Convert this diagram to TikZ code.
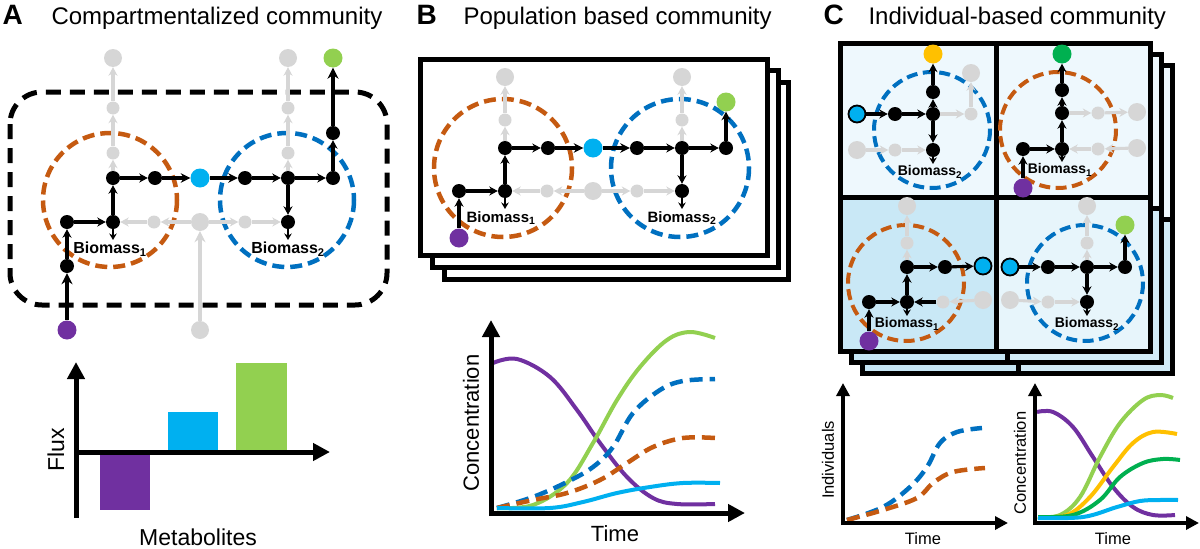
\documentclass[tikz,border=0pt]{standalone}
\usepackage{fontspec}
\setmainfont{Liberation Sans}
\usetikzlibrary{arrows.meta}
\definecolor{cOr}{HTML}{C55A11}
\definecolor{cBl}{HTML}{0070C0}
\definecolor{cCy}{HTML}{00B0F0}
\definecolor{cGr}{HTML}{92D050}
\definecolor{cPu}{HTML}{7030A0}
\definecolor{cGy}{HTML}{D6D6D6}
\definecolor{cYe}{HTML}{FFC000}
\definecolor{cDg}{HTML}{00B050}
\definecolor{fTop}{HTML}{EEF8FD}
\definecolor{fBL}{HTML}{C9E8F6}
\definecolor{fBR}{HTML}{E7F5FB}
\definecolor{fBk}{HTML}{C6E6F5}
\begin{document}
\begin{tikzpicture}[x=1pt,y=-1pt,
  bn/.style={circle,fill=black,inner sep=0pt,minimum size=14pt},
  gs/.style={circle,fill=cGy,inner sep=0pt,minimum size=13pt},
  gb/.style={circle,fill=cGy,inner sep=0pt,minimum size=18pt},
  met/.style={circle,inner sep=0pt,minimum size=19pt},
  cyo/.style={circle,fill=cCy,draw=black,line width=1.8pt,inner sep=0pt,minimum size=17pt},
  ar/.style={line width=3.1pt,-{Stealth[length=8.5pt,width=9pt]}},
  arm/.style={line width=3.8pt,-{Stealth[length=9.5pt,width=9.5pt]}},
  arT/.style={line width=4.6pt,-{Stealth[length=11pt,width=11pt]}},
  ars/.style={line width=2.4pt,-{Stealth[length=6.5pt,width=7.5pt]}},
  ga/.style={ar,color=cGy},
  gaT/.style={arT,color=cGy},
  bioA/.style={font=\bfseries\fontsize{16}{16}\selectfont},
  bioB/.style={font=\bfseries\fontsize{15}{15}\selectfont},
  bioC/.style={font=\bfseries\fontsize{14}{14}\selectfont},
  dc/.style={line width=4.5pt,dash pattern=on 12pt off 6pt},
  dcs/.style={line width=4pt,dash pattern=on 11pt off 5.5pt},
  fr/.style={draw=black,line width=5pt},
  axisL/.style={line width=5pt,-{Triangle[length=17pt,width=17pt]}},
  axisS/.style={line width=4.5pt,-{Triangle[length=13pt,width=13pt]}},
  cv/.style={line width=4pt},
  dv/.style={line width=4.5pt,dash pattern=on 13pt off 7pt},
  ttl/.style={font=\fontsize{24}{24}\selectfont,anchor=base west},
  let/.style={font=\bfseries\fontsize{28}{28}\selectfont,anchor=base west},
  lbl/.style={font=\fontsize{23}{23}\selectfont},
  lbs/.style={font=\fontsize{16.5}{16.5}\selectfont}
]
\path[use as bounding box] (0,0) rectangle (1200,549);

% ---------------- titles
\node[let] (tA) at (-1,24) {A};
\node[ttl] (tAt) at (48,24) {Compartmentalized community};
\node[let] (tB) at (413,24) {B};
\node[ttl] (tBt) at (460,24) {Population based community};
\node[let] (tC) at (820,24) {C};
\node[ttl] (tCt) at (865,24) {Individual-based community};

% ================= PANEL A
\draw[line width=5pt,dash pattern=on 15pt off 9pt,rounded corners=32pt] (10,92) rectangle (387,305);
\draw[dc,cOr] (110,200) circle (67);
\draw[dc,cBl] (287,200) circle (67);

\node[gb] (a1) at (113,58) {};
\node[gs] (a2) at (113,108) {};
\node[gs] (a3) at (113,153) {};
\node[bn] (a4) at (113,178) {};
\node[bn] (a5) at (155,178) {};
\node[met,fill=cCy] (ac) at (200,178) {};
\node[bn] (a6) at (245,178) {};
\node[bn] (a7) at (288,178) {};
\node[bn] (a8) at (333,178) {};
\node[bn] (a9) at (333,133) {};
\node[met,fill=cGr] (ag) at (333,58) {};
\node[gb] (at2) at (288,58) {};
\node[gs] (at3) at (288,108) {};
\node[gs] (at4) at (288,153) {};
\node[bn] (a10) at (67,222) {};
\node[bn] (a11) at (113,222) {};
\node[gs] (a12) at (154,222) {};
\node[gb] (a13) at (200,222) {};
\node[gs] (a14) at (245,222) {};
\node[bn] (a15) at (288,222) {};
\node[bn] (a16) at (67,266) {};
\node[met,fill=cPu] (ap) at (67,330) {};
\node[gb] (agb) at (200,330) {};
\node[bioA] (A1bio) at (110,249) {Biomass\textsubscript{1}};
\node[bioA] (A2bio) at (288,249) {Biomass\textsubscript{2}};
\coordinate (a11e) at (113,240);
\coordinate (a15e) at (288,240);

\draw[arT] (ap) -- (a16);
\draw[ar] (a16) -- (a10);
\draw[ar] (a10) -- (a11);
\draw[ar] (a11) -- (a4);
\draw[ars] (a11) -- (a11e);
\draw[ar] (a4) -- (a5);
\draw[arm] (a5) -- (ac);
\draw[arm] (ac) -- (a6);
\draw[ar] (a6) -- (a7);
\draw[ar] (a7) -- (a8);
\draw[ar] (a7) -- (a15);
\draw[ars] (a15) -- (a15e);
\draw[ar] (a8) -- (a9);
\draw[arT] (a9) -- (ag);
\draw[ga] (a4) -- (a3);
\draw[ga] (a3) -- (a2);
\draw[ga] (a2) -- (a1);
\draw[ga] (a7) -- (at4);
\draw[ga] (at4) -- (at3);
\draw[ga] (at3) -- (at2);
\draw[ga] (a13) -- (a12);
\draw[ga] (a12) -- (a11);
\draw[ga] (a13) -- (a14);
\draw[ga] (a14) -- (a15);
\draw[gaT] (agb) -- (a13);

% bar chart
\fill[cPu] (100,454) rectangle (150,510);
\fill[cCy] (168,412) rectangle (218,450);
\fill[cGr] (236,363) rectangle (287,450);
\coordinate (Ay0) at (76,518);
\coordinate (Ay1) at (76,362);
\coordinate (Ax0) at (74,452);
\coordinate (Ax1) at (330,452);
\draw[axisL] (Ay0) -- (Ay1);
\draw[axisL] (Ax0) -- (Ax1);
\node[lbl,rotate=90] (flux) at (56,450) {Flux};
\node[lbl] (metab) at (198,537) {Metabolites};

% ================= PANEL B
\draw[fr,fill=white] (444,82) rectangle (788,279);
\draw[fr,fill=white] (432,70) rectangle (778,267);
\draw[fr,fill=white] (420,59) rectangle (767,255);
\draw[dc,cOr] (503,168) circle (69);
\draw[dc,cBl] (680,168) circle (69);

\node[gb] (b1) at (505,77) {};
\node[gs] (b2) at (505,120) {};
\node[bn] (b3) at (505,148) {};
\node[bn] (b4) at (548,148) {};
\node[met,fill=cCy] (bc) at (593,148) {};
\node[bn] (b5) at (637,148) {};
\node[bn] (b6) at (682,148) {};
\node[bn] (b7) at (726,148) {};
\node[met,fill=cGr] (bg) at (726,102) {};
\node[gb] (bt1) at (682,77) {};
\node[gs] (bt2) at (682,120) {};
\node[bn] (b8) at (459,191) {};
\node[bn] (b9) at (505,191) {};
\node[gs] (b10) at (547,191) {};
\node[gb] (b11) at (593,191) {};
\node[gs] (b12) at (637,191) {};
\node[bn] (b13) at (682,191) {};
\node[met,fill=cPu] (bp) at (459,238) {};
\node[bioB] (B1bio) at (501,218) {Biomass\textsubscript{1}};
\node[bioB] (B2bio) at (682,218) {Biomass\textsubscript{2}};
\coordinate (b9e) at (505,209);
\coordinate (b13e) at (682,209);

\draw[ar] (bp) -- (b8);
\draw[ar] (b8) -- (b9);
\draw[ar] (b9) -- (b3);
\draw[ars] (b9) -- (b9e);
\draw[ar] (b3) -- (b4);
\draw[arm] (b4) -- (bc);
\draw[arm] (bc) -- (b5);
\draw[ar] (b5) -- (b6);
\draw[ar] (b6) -- (b7);
\draw[ar] (b7) -- (bg);
\draw[ar] (b6) -- (b13);
\draw[ars] (b13) -- (b13e);
\draw[ga] (b3) -- (b2);
\draw[ga] (b2) -- (b1);
\draw[ga] (b6) -- (bt2);
\draw[ga] (bt2) -- (bt1);
\draw[ga] (b11) -- (b10);
\draw[ga] (b10) -- (b9);
\draw[ga] (b11) -- (b12);
\draw[ga] (b12) -- (b13);

% graph B
\draw[cv,cPu] plot[smooth,tension=0.6] coordinates {(493,363) (517,359) (550,377) (577,410) (600,443) (627,477) (653,498) (677,504) (715,504)};
\draw[cv,cGr] plot[smooth,tension=0.6] coordinates {(497,508) (533,505) (567,483) (593,443) (617,400) (640,367) (667,340) (690,332) (715,338)};
\draw[dv,cBl] plot[smooth,tension=0.6] coordinates {(497,508) (533,497) (567,482) (593,467) (613,447) (633,413) (660,390) (683,381) (715,379)};
\draw[dv,cOr] plot[smooth,tension=0.6] coordinates {(497,508) (533,500) (567,493) (600,480) (627,463) (653,447) (683,438) (715,438)};
\draw[cv,cCy] plot[smooth,tension=0.6] coordinates {(497,508) (550,508) (583,502) (617,493) (650,487) (683,483) (720,483)};
\coordinate (By0) at (491,516);
\coordinate (By1) at (491,320);
\coordinate (Bx0) at (489,513);
\coordinate (Bx1) at (745,513);
\draw[axisL] (By0) -- (By1);
\draw[axisL] (Bx0) -- (Bx1);
\node[lbl,rotate=90,font=\fontsize{22}{22}\selectfont] (Bconc) at (471,423) {Concentration};
\node[lbl,font=\fontsize{22}{22}\selectfont] (Btime) at (615,534) {Time};

% ================= PANEL C
% back frames
\foreach \d in {22,11} {
  \fill[fTop] (840+\d,43+\d) rectangle (1150+\d,197+\d);
  \fill[fBk] (840+\d,197+\d) rectangle (996+\d,351+\d);
  \fill[fBk!80!white] (996+\d,197+\d) rectangle (1150+\d,351+\d);
  \draw[fr] (840+\d,43+\d) rectangle (1150+\d,351+\d);
  \draw[fr] (996+\d,43+\d) -- (996+\d,351+\d);
  \draw[fr] (840+\d,197+\d) -- (1150+\d,197+\d);
}
% front frame
\fill[fTop] (840,43) rectangle (1150,197);
\fill[fBL] (840,197) rectangle (996,351);
\fill[fBR] (996,197) rectangle (1150,351);
\draw[fr] (840,43) rectangle (1150,351);
\draw[fr] (996,43) -- (996,351);
\draw[fr] (840,197) -- (1150,197);

\draw[dcs,cBl] (932,130) circle (58);
\draw[dcs,cOr] (1058,130) circle (58);
\draw[dcs,cOr] (906,283) circle (58);
\draw[dcs,cBl] (1085,283) circle (58);

% top-left cell
\node[met,fill=cYe] (c1y) at (933,54) {};
\node[bn] (c1a) at (933,92) {};
\node[bn] (c1b) at (933,114) {};
\node[bn] (c1c) at (895,114) {};
\node[cyo] (c1cy) at (857,114) {};
\node[bn] (c1d) at (933,150) {};
\node[gb] (c1g1) at (971,73) {};
\node[gs] (c1g2) at (971,114) {};
\node[gb] (c1g3) at (857,150) {};
\node[gs] (c1g4) at (895,150) {};
\node[bioC] (C1bio) at (930,172) {Biomass\textsubscript{2}};
\coordinate (c1de) at (933,164);
\draw[ar] (c1cy) -- (c1c);
\draw[ar] (c1c) -- (c1b);
\draw[ar] (c1b) -- (c1a);
\draw[ar] (c1a) -- (c1y);
\draw[ar] (c1b) -- (c1d);
\draw[ars] (c1d) -- (c1de);
\draw[ga] (c1b) -- (c1g2);
\draw[ga] (c1g2) -- (c1g1);
\draw[ga] (c1g3) -- (c1g4);
\draw[ga] (c1g4) -- (c1d);

% top-right cell
\node[met,fill=cDg] (c2g) at (1062,54) {};
\node[bn] (c2a) at (1062,90) {};
\node[bn] (c2b) at (1062,113) {};
\node[bn] (c2c) at (1062,149) {};
\node[bn] (c2d) at (1023,149) {};
\node[met,fill=cPu] (c2p) at (1023,188) {};
\node[gs] (c2g1) at (1098,113) {};
\node[gb] (c2g2) at (1137,112) {};
\node[gs] (c2g3) at (1098,149) {};
\node[gb] (c2g4) at (1137,148) {};
\node[bioC] (C2bio) at (1060,170) {Biomass\textsubscript{1}};
\coordinate (c2ce) at (1062,162);
\draw[ar] (c2p) -- (c2d);
\draw[ar] (c2d) -- (c2c);
\draw[ar] (c2c) -- (c2b);
\draw[ar] (c2b) -- (c2a);
\draw[ar] (c2a) -- (c2g);
\draw[ars] (c2c) -- (c2ce);
\draw[ga] (c2b) -- (c2g1);
\draw[ga] (c2g1) -- (c2g2);
\draw[ga] (c2g4) -- (c2g3);
\draw[ga] (c2g3) -- (c2c);

% bottom-left cell
\node[gb] (c3g1) at (907,206) {};
\node[gs] (c3g2) at (907,243) {};
\node[bn] (c3a) at (907,267) {};
\node[bn] (c3b) at (945,267) {};
\node[cyo] (c3cy) at (983,266) {};
\node[bn] (c3c) at (869,302) {};
\node[bn] (c3d) at (907,302) {};
\node[met,fill=cPu] (c3p) at (869,341) {};
\node[gs] (c3g3) at (943,302) {};
\node[gb] (c3g4) at (983,300) {};
\node[bioC] (C3bio) at (907,324) {Biomass\textsubscript{1}};
\coordinate (c3de) at (907,316);
\draw[ar] (c3p) -- (c3c);
\draw[ar] (c3c) -- (c3d);
\draw[ar] (c3d) -- (c3a);
\draw[ar] (c3a) -- (c3b);
\draw[ar] (c3b) -- (c3cy);
\draw[ars] (c3d) -- (c3de);
\draw[ar] (c3g3) -- (c3d);
\draw[ga] (c3g4) -- (c3g3);
\draw[ga] (c3a) -- (c3g2);
\draw[ga] (c3g2) -- (c3g1);

% bottom-right cell
\node[gb] (c4g1) at (1087,206) {};
\node[gs] (c4g2) at (1087,243) {};
\node[met,fill=cGr] (c4gr) at (1125,225) {};
\node[cyo] (c4cy) at (1010,267) {};
\node[bn] (c4a) at (1048,267) {};
\node[bn] (c4b) at (1087,267) {};
\node[bn] (c4c) at (1125,267) {};
\node[bn] (c4d) at (1087,302) {};
\node[gb] (c4g3) at (1010,300) {};
\node[gs] (c4g4) at (1048,302) {};
\node[bioC] (C4bio) at (1087,324) {Biomass\textsubscript{2}};
\coordinate (c4de) at (1087,316);
\draw[ar] (c4cy) -- (c4a);
\draw[ar] (c4a) -- (c4b);
\draw[ar] (c4b) -- (c4c);
\draw[ar] (c4c) -- (c4gr);
\draw[ar] (c4b) -- (c4d);
\draw[ars] (c4d) -- (c4de);
\draw[ga] (c4g3) -- (c4g4);
\draw[ga] (c4g4) -- (c4d);
\draw[ga] (c4b) -- (c4g2);
\draw[ga] (c4g2) -- (c4g1);

% graph C left
\draw[dv,cBl] plot[smooth,tension=0.6] coordinates {(847,520) (883,507) (910,487) (927,467) (940,443) (957,432) (982,428)};
\draw[dv,cOr] plot[smooth,tension=0.6] coordinates {(847,520) (883,510) (917,498) (933,483) (953,472) (985,468)};
\coordinate (Cy0) at (843,525);
\coordinate (Cy1) at (843,383);
\coordinate (Cx0) at (841,523);
\coordinate (Cx1) at (1008,523);
\draw[axisS] (Cy0) -- (Cy1);
\draw[axisS] (Cx0) -- (Cx1);
\node[lbs,rotate=90] (Cind) at (828,460) {Individuals};
\node[lbs] (Ctime1) at (923,539) {Time};

% graph C right
\draw[cv,cPu] plot[smooth,tension=0.6] coordinates {(1037,412) (1053,412) (1073,427) (1093,457) (1113,487) (1133,507) (1153,515) (1175,515)};
\draw[cv,cGr] plot[smooth,tension=0.6] coordinates {(1038,517) (1060,515) (1080,497) (1100,457) (1120,423) (1143,400) (1160,395) (1173,398)};
\draw[cv,cYe] plot[smooth,tension=0.6] coordinates {(1038,517) (1067,515) (1090,497) (1113,467) (1133,443) (1153,432) (1177,434)};
\draw[cv,cDg] plot[smooth,tension=0.6] coordinates {(1038,517) (1073,515) (1100,500) (1120,477) (1143,463) (1163,459) (1180,460)};
\draw[cv,cCy] plot[smooth,tension=0.6] coordinates {(1038,518) (1083,517) (1117,507) (1140,501) (1160,500) (1178,500)};
\coordinate (Dy0) at (1035,525);
\coordinate (Dy1) at (1035,383);
\coordinate (Dx0) at (1033,523);
\coordinate (Dx1) at (1199,523);
\draw[axisS] (Dy0) -- (Dy1);
\draw[axisS] (Dx0) -- (Dx1);
\node[lbs,rotate=90] (Dconc) at (1020,463) {Concentration};
\node[lbs] (Dtime) at (1113,539) {Time};
\end{tikzpicture}
\end{document}
